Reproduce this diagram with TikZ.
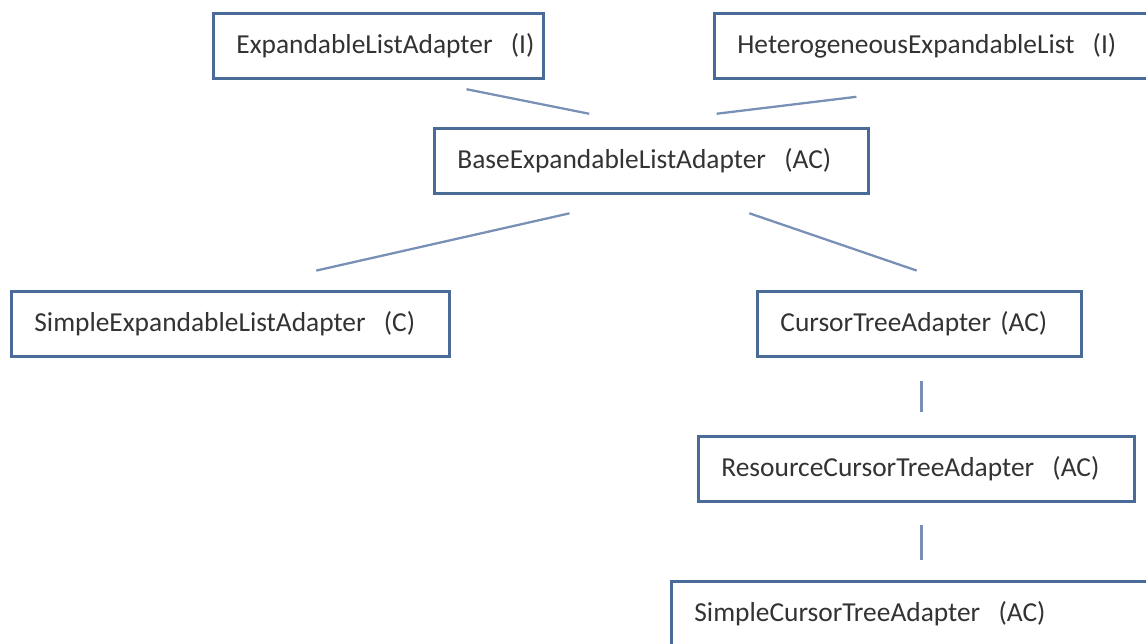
\documentclass[tikz,border=0pt]{standalone}
\usepackage{fontspec}
\setmainfont{Carlito}
\usepackage{xcolor}
\usepackage{tikz}
\usetikzlibrary{calc,positioning}

\definecolor{boxblue}{HTML}{4A6A98}
\definecolor{linkblue}{HTML}{7890B5}
\definecolor{txtgray}{HTML}{333333}

\begin{document}
\begin{tikzpicture}[
		cls/.style={draw=boxblue, line width=1.6pt, fill=white, rectangle,
			minimum height=1.3cm, inner xsep=0.46cm, align=left,
			anchor=north west, text=txtgray,
			font=\fontsize{15.6}{18}\selectfont},
		link/.style={draw=linkblue, line width=1.3pt}
	]
			\useasboundingbox (0,0) rectangle (22.92,-12.88);
			\clip (0,0) rectangle (22.92,-12.88);
			% interfaces on top
			\node[cls, text width=5.68cm] at (4.24,-0.24) (ela) {ExpandableListAdapter~~(I)};
			\node[cls, text width=7.92cm] at (14.26,-0.24) (hel) {HeterogeneousExpandableList~~(I)};
			% abstract base
			\node[cls, text width=7.76cm] at (8.66,-2.54) (bela) {BaseExpandableListAdapter~~(AC)};
			% subclasses
			\node[cls, text width=7.84cm] at (0.2,-5.8) (sela) {SimpleExpandableListAdapter~~(C)};
			\node[cls, text width=5.56cm] at (15.12,-5.8) (cta) {CursorTreeAdapter (AC)};
			\node[cls, text width=7.8cm] at (13.94,-8.7) (rcta) {ResourceCursorTreeAdapter~~(AC)};
			\node[cls, text width=8.88cm] at (13.4,-11.6) (scta) {SimpleCursorTreeAdapter~~(AC)};
			% links, kept off the boxes
			\draw[link, shorten <=0.96cm, shorten >=1.35cm] ([xshift=0.82cm]ela.south) -- ([xshift=0.08cm]bela.north);
			\draw[link, shorten <=2.82cm, shorten >=2.2cm] ([xshift=1.22cm]hel.south) -- ([xshift=-0.88cm]bela.north);
			\draw[link, shorten <=1.68cm, shorten >=1.76cm] (bela.south) -- (sela.north);
			\draw[link, shorten <=1.14cm, shorten >=1.2cm] ([xshift=0.88cm]bela.south) -- ([xshift=1.08cm]cta.north);
			\draw[link, shorten <=0.46cm, shorten >=0.46cm] ([xshift=0.04cm]cta.south) -- ([xshift=0.04cm]cta.south |- rcta.north);
			\draw[link, shorten <=0.44cm, shorten >=0.4cm] ([xshift=0.1cm]rcta.south) -- ([xshift=0.1cm]rcta.south |- scta.north);
		\end{tikzpicture}
\end{document}
